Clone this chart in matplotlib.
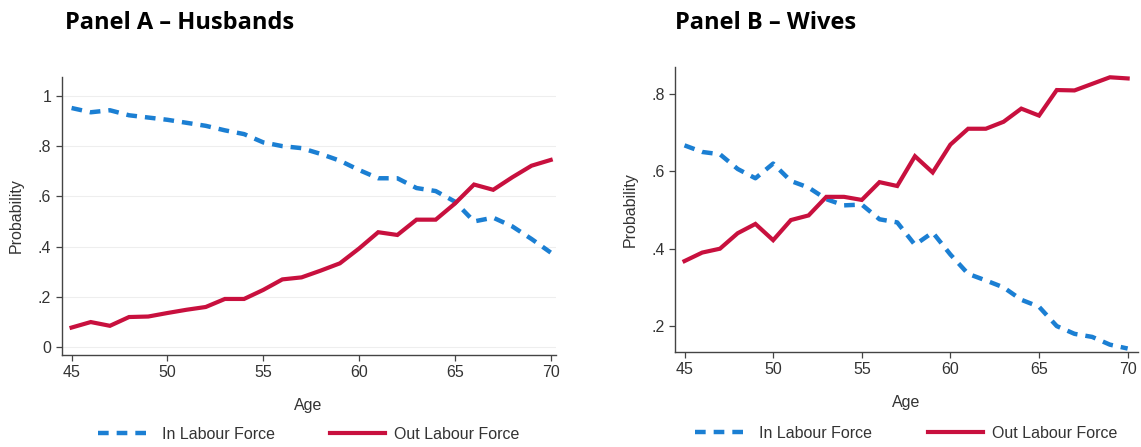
import matplotlib
matplotlib.use('Agg')
import matplotlib.pyplot as plt
import numpy as np

######### DADOS #########

idades = list(range(45, 71))

# Painel A - maridos
maridos_dentro = [0.952, 0.935, 0.943, 0.923, 0.914, 0.905, 0.893, 0.881, 0.863, 0.848,
                  0.815, 0.800, 0.792, 0.769, 0.742, 0.705, 0.672, 0.672, 0.633, 0.621,
                  0.579, 0.500, 0.515, 0.480, 0.430, 0.376]
maridos_fora = [0.077, 0.099, 0.084, 0.119, 0.121, 0.135, 0.148, 0.159, 0.191, 0.191,
                0.227, 0.269, 0.277, 0.304, 0.333, 0.392, 0.457, 0.446, 0.507, 0.507,
                0.571, 0.647, 0.626, 0.676, 0.722, 0.745]

# Painel B - esposas
esposas_dentro = [0.667, 0.650, 0.644, 0.606, 0.582, 0.620, 0.575, 0.558, 0.528, 0.512,
                  0.514, 0.476, 0.468, 0.410, 0.442, 0.385, 0.335, 0.318, 0.300, 0.268,
                  0.250, 0.200, 0.180, 0.172, 0.152, 0.142]
esposas_fora = [0.368, 0.390, 0.400, 0.440, 0.464, 0.422, 0.474, 0.486, 0.534, 0.534,
                0.526, 0.572, 0.562, 0.639, 0.597, 0.669, 0.710, 0.710, 0.728, 0.762,
                0.744, 0.810, 0.809, 0.826, 0.843, 0.840]

ticks_x = [45, 50, 55, 60, 65, 70]
ticks_y_a = [0, 0.2, 0.4, 0.6, 0.8, 1.0]
labels_y_a = ['0', '.2', '.4', '.6', '.8', '1']
ticks_y_b = [0.2, 0.4, 0.6, 0.8]
labels_y_b = ['.2', '.4', '.6', '.8']

titulos = ['Panel A \u2013 Husbands', 'Panel B \u2013 Wives']
legendas = ['In Labour Force', 'Out Labour Force']

######### ESTILO #########

azul = '#1b7fd3'
vermelho = '#c8103e'
cinza = '#444444'

plt.rcParams['font.family'] = ['Liberation Sans', 'DejaVu Sans']

fig = plt.figure(figsize=(11.41, 4.47), dpi=100)
fig.patch.set_facecolor('white')

# posicoes dos paineis (em fracao da figura)
ax_a = fig.add_axes([0.054, 0.206, 0.433, 0.622])
ax_b = fig.add_axes([0.592, 0.2125, 0.405, 0.638])


def desenha(ax, dentro, fora, ticks_y, labels_y, xlim, ylim, grade):
    l1, = ax.plot(idades, dentro, color=azul, lw=3.2, dashes=(2.4, 1.8), solid_capstyle='butt')
    l2, = ax.plot(idades, fora, color=vermelho, lw=3.0, solid_joinstyle='miter')
    ax.set_xlim(*xlim)
    ax.set_ylim(*ylim)
    ax.set_xticks(ticks_x)
    ax.set_yticks(ticks_y)
    ax.set_yticklabels(labels_y)
    if grade:
        for v in ticks_y:
            ax.axhline(v, color='#eeeeee', lw=0.8, zorder=0)
    for s in ['top', 'right']:
        ax.spines[s].set_visible(False)
    for s in ['left', 'bottom']:
        ax.spines[s].set_color(cinza)
        ax.spines[s].set_linewidth(1.0)
    ax.tick_params(colors=cinza, labelcolor='#333333', labelsize=11.5, length=4, width=0.9)
    ax.set_xlabel('Age', fontsize=11.5, color='#333333', labelpad=13)
    ax.set_ylabel('Probability', fontsize=11.5, color='#333333', labelpad=10)
    ax.legend([l1, l2], legendas, loc='upper center', bbox_to_anchor=(0.5, -0.225),
              ncol=2, frameon=False, fontsize=11.5, handlelength=3.4, columnspacing=3.5,
              handletextpad=0.6, labelcolor='#333333', borderaxespad=0.2)


desenha(ax_a, maridos_dentro, maridos_fora, ticks_y_a, labels_y_a,
        (44.48, 70.26), (-0.032, 1.076), True)
desenha(ax_b, esposas_dentro, esposas_fora, ticks_y_b, labels_y_b,
        (44.49, 70.56), (0.133, 0.870), False)

# titulos dos paineis
fig.text(0.057, 0.948, titulos[0], fontsize=17, fontweight='bold', family=['Open Sans', 'DejaVu Sans'],
         va='center', ha='left')
fig.text(0.592, 0.948, titulos[1], fontsize=17, fontweight='bold', family=['Open Sans', 'DejaVu Sans'],
         va='center', ha='left')

plt.savefig('out.png', dpi=100)
